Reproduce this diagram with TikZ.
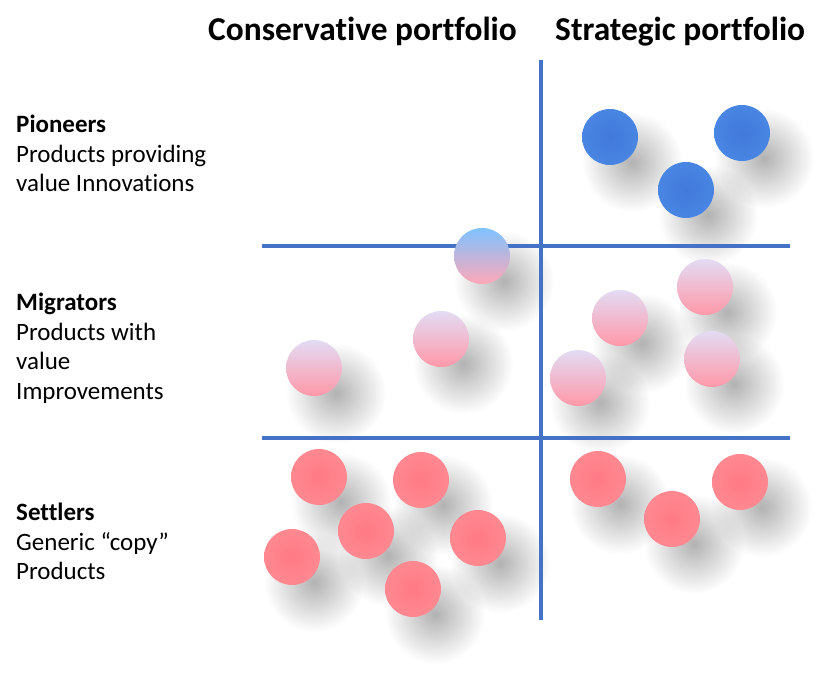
\documentclass[tikz,border=0pt]{standalone}
\usepackage{fontspec}
\setmainfont[Ligatures=NoCommon]{Carlito}
\usetikzlibrary{fadings,backgrounds}

\definecolor{axisblue}{HTML}{4472C4}
\definecolor{blueinner}{HTML}{4179DA}
\definecolor{bluemid}{HTML}{4A87E4}
\definecolor{blueouter}{HTML}{62A3F6}
\definecolor{blueedge}{HTML}{80BEFF}
\definecolor{pinkinner}{HTML}{FF7A84}
\definecolor{pinkmid}{HTML}{FF8A92}
\definecolor{pinkouter}{HTML}{FFA8B0}
\definecolor{pinkedge}{HTML}{FFC8CE}
\definecolor{mixtop}{HTML}{E2DCF4}
\definecolor{mixmid}{HTML}{CBA2C8}
\definecolor{mixbot}{HTML}{FF98A8}
\definecolor{tiptop}{HTML}{7EC2FF}
\definecolor{tipmid}{HTML}{BDB0D4}
\definecolor{tipbot}{HTML}{FFA8B8}

\pgfdeclareradialshading{ballblueshade}{\pgfpoint{0bp}{0bp}}{color(0bp)=(blueinner); color(28bp)=(bluemid); color(44bp)=(blueouter); color(50bp)=(blueedge)}
\pgfdeclareradialshading{ballpinkshade}{\pgfpoint{0bp}{0bp}}{color(0bp)=(pinkinner); color(28bp)=(pinkmid); color(44bp)=(pinkouter); color(50bp)=(pinkedge)}
\tikzfading[name=softshadow, inner color=transparent!0, outer color=transparent!100]

\begin{document}
\begin{tikzpicture}[x=0.03cm,y=-0.03cm,
    axisline/.style={draw=axisblue,line width=2.6pt},
    ball/.style={circle,minimum size=1.68cm,inner sep=0pt},
    ballblue/.style={ball,shading=ballblueshade},
    ballpink/.style={ball,shading=ballpinkshade},
    ballmix/.style={ball,top color=mixtop,middle color=mixmid,bottom color=mixbot},
    balltip/.style={ball,top color=tiptop,middle color=tipmid,bottom color=tipbot},
    heading/.style={font=\bfseries\fontsize{28.5}{32}\selectfont,inner sep=0pt,anchor=base west},
    rowlabel/.style={font=\fontsize{21.3}{25.2}\selectfont,align=left,inner sep=0pt,anchor=north west}]
  \useasboundingbox (0,0) rectangle (830,680);

  % headings
  \node[heading] (cons) at (208,41) {Conservative portfolio};
  \node[heading] (strat) at (555,41) {Strategic portfolio};

  % rows
  \node[rowlabel] (pion) at (16,115) {\textbf{Pioneers}\\Products providing\\value Innovations};
  \node[rowlabel] (migr) at (16,293) {\textbf{Migrators}\\Products with\\value\\Improvements};
  \node[rowlabel] (sett) at (16,503) {\textbf{Settlers}\\Generic “copy”\\Products};

  % axes
  \coordinate (vtop) at (541,60);
  \coordinate (vbot) at (541,620);
  \coordinate (h1l) at (262,246);
  \coordinate (h1r) at (790,246);
  \coordinate (h2l) at (262,438);
  \coordinate (h2r) at (790,438);
  \draw[axisline] (vtop) -- (vbot);
  \draw[axisline] (h1l) -- (h1r);
  \draw[axisline] (h2l) -- (h2r);

  % pioneers
  \node[ballblue] (p1) at (610,137) {};
  \node[ballblue] (p2) at (742,133) {};
  \node[ballblue] (p3) at (686,190) {};

  % migrators
  \node[balltip] (t1) at (482,256) {};
  \node[ballmix] (m1) at (441,339) {};
  \node[ballmix] (m2) at (314,368) {};
  \node[ballmix] (m3) at (620,318) {};
  \node[ballmix] (m4) at (705,287) {};
  \node[ballmix] (m5) at (712,359) {};
  \node[ballmix] (m6) at (578,378) {};

  % settlers
  \node[ballpink] (s1) at (319,477) {};
  \node[ballpink] (s2) at (421,480) {};
  \node[ballpink] (s3) at (366,531) {};
  \node[ballpink] (s4) at (292,557) {};
  \node[ballpink] (s5) at (478,538) {};
  \node[ballpink] (s6) at (413,589) {};
  \node[ballpink] (s7) at (598,479) {};
  \node[ballpink] (s8) at (672,519) {};
  \node[ballpink] (s9) at (740,482) {};

  % shadows
  \begin{scope}[on background layer]
    \foreach \b in {p1,p2,p3,t1,m1,m2,m3,m4,m5,m6,s1,s2,s3,s4,s5,s6,s7,s8,s9}
      \fill[black,opacity=.3,path fading=softshadow] ([shift={(22,25)}]\b.center) circle (50);
  \end{scope}
\end{tikzpicture}
\end{document}
